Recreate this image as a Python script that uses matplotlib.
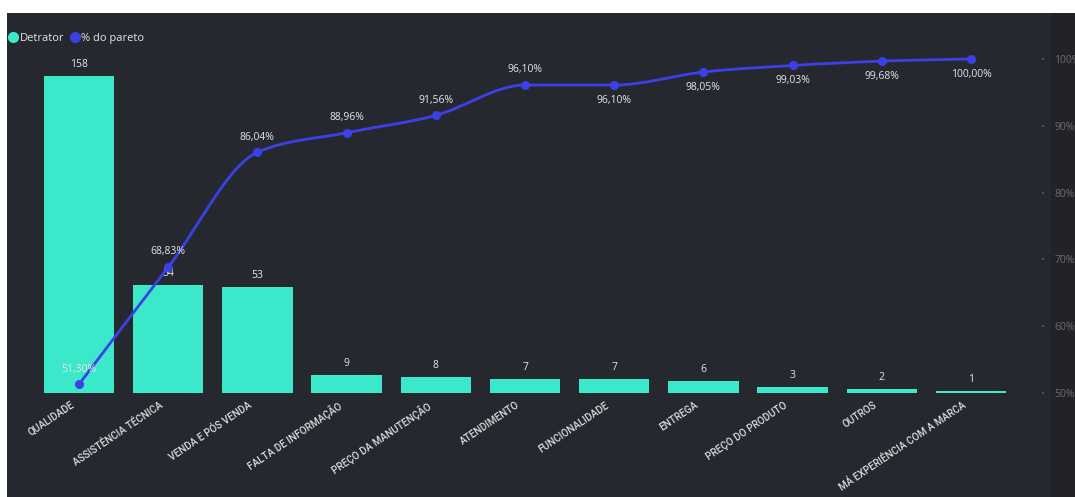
import numpy as np
import matplotlib.pyplot as plt
from matplotlib.path import Path
from matplotlib.patches import PathPatch, Rectangle
from matplotlib.lines import Line2D

plt.rcParams['font.family'] = ['Open Sans', 'DejaVu Sans']

# Dados do pareto de detratores
categorias = ["QUALIDADE", "ASSISTÊNCIA TÉCNICA", "VENDA E PÓS VENDA", "FALTA DE INFORMAÇÃO",
              "PREÇO DA MANUTENÇÃO", "ATENDIMENTO", "FUNCIONALIDADE", "ENTREGA",
              "PREÇO DO PRODUTO", "OUTROS", "MÁ EXPERIÊNCIA COM A MARCA"]
detrator = [158, 54, 53, 9, 8, 7, 7, 6, 3, 2, 1]
pareto = [51.30, 68.83, 86.04, 88.96, 91.56, 96.10, 96.10, 98.05, 99.03, 99.68, 100.00]
# rótulo acima (True) ou abaixo (False) do ponto
rotulo_acima = [True, True, True, True, True, True, False, False, False, False, False]

COR_FUNDO = '#262830'
COR_BARRA = '#3ce8ca'
COR_LINHA = '#3c40e6'
COR_TEXTO = '#e6e6e6'

W, H = 1075, 497
fig = plt.figure(figsize=(W / 100, H / 100), dpi=100)
fig.patch.set_facecolor('white')
# painel escuro
fig.patches.append(Rectangle((7 / W, 0), 1 - 7 / W, 1 - 13 / H, transform=fig.transFigure,
                             facecolor=COR_FUNDO, edgecolor='none', zorder=-2))
fig.patches.append(Rectangle((1051 / W, 0), 1, 1 - 13 / H, transform=fig.transFigure,
                             facecolor='#212329', edgecolor='none', zorder=-1))

passo = 89.2
x0_px = 79 - 0.5 * passo
largura_px = 11.3 * passo
base_px, topo_px = 393, 50
ax = fig.add_axes([x0_px / W, (H - base_px) / H, largura_px / W, (base_px - topo_px) / H])
ax.set_facecolor('none')
ax2 = ax.twinx()

x = np.arange(len(categorias))
ax.bar(x, detrator, width=0.79, color=COR_BARRA, zorder=2)
ax.set_xlim(-0.5, 10.8)
ax.set_ylim(0, (base_px - topo_px) / 2.006)
for xi, v in zip(x, detrator):
    ax.annotate(str(v), (xi, v), xytext=(0, 4), textcoords='offset points',
                ha='center', va='bottom', color=COR_TEXTO, fontsize=7.5, fontweight='medium')

# rótulos inclinados, ancorados um pouco à esquerda do centro da barra
ax.set_xticks(x - 0.1)
ax.set_xticklabels(categorias, rotation=34, ha='right', va='top', rotation_mode='anchor',
                   color='#dcdcdc', fontsize=7.2, family=['Roboto', 'DejaVu Sans'],
                   fontweight='medium')
ax.tick_params(axis='x', length=0, pad=5)
ax.set_yticks([])
for s in ax.spines.values():
    s.set_visible(False)

# curva suavizada (monotone X) do % acumulado
xp = x.astype(float)
yp = np.array(pareto)
h = np.diff(xp)
s = np.diff(yp) / h
t = np.zeros_like(yp)
for i in range(1, len(yp) - 1):
    p = (s[i - 1] * h[i] + s[i] * h[i - 1]) / (h[i - 1] + h[i])
    t[i] = (np.sign(s[i - 1]) + np.sign(s[i])) * min(abs(s[i - 1]), abs(s[i]), 0.5 * abs(p))
t[0] = (3 * s[0] - t[1]) / 2
t[-1] = (3 * s[-1] - t[-2]) / 2
verts = [(xp[0], yp[0])]
codes = [Path.MOVETO]
for i in range(len(yp) - 1):
    d = h[i] / 3
    verts += [(xp[i] + d, yp[i] + d * t[i]), (xp[i + 1] - d, yp[i + 1] - d * t[i + 1]),
              (xp[i + 1], yp[i + 1])]
    codes += [Path.CURVE4] * 3
ax2.add_patch(PathPatch(Path(verts, codes), fill=False, edgecolor=COR_LINHA, lw=2.0, zorder=3))
ax2.plot(xp, yp, 'o', color=COR_LINHA, markersize=5.5, zorder=4)
for xi, v, acima in zip(xp, yp, rotulo_acima):
    txt = f"{v:.2f}".replace('.', ',') + '%'
    ax2.annotate(txt, (xi, v), xytext=(0, 7 if acima else -7), textcoords='offset points',
                 ha='center', va='bottom' if acima else 'top', color=COR_TEXTO, fontsize=7.5,
                 fontweight='medium')

ax2.set_ylim(50, 50 + (base_px - topo_px) / 6.68)
ax2.set_yticks([50, 60, 70, 80, 90, 100])
ax2.set_yticklabels(['50%', '60%', '70%', '80%', '90%', '100%'], color='#6a6c72', fontsize=7.5)
ax2.tick_params(axis='y', length=1.5, width=1.2, color='#5a5c62', pad=7)
for sp in ax2.spines.values():
    sp.set_visible(False)

# legenda
handles = [Line2D([], [], marker='o', ls='none', color=COR_BARRA, markersize=7),
           Line2D([], [], marker='o', ls='none', color=COR_LINHA, markersize=7)]
fig.legend(handles, ['Detrator', '% do pareto'], loc='upper left', bbox_to_anchor=(0.0, 1 - 25 / H),
           ncol=2, frameon=False, labelcolor=COR_TEXTO, fontsize=8, handletextpad=0.1,
           columnspacing=0.4, borderaxespad=0.3, handlelength=1.0)

fig.savefig('out.png', dpi=100, facecolor=fig.get_facecolor())
